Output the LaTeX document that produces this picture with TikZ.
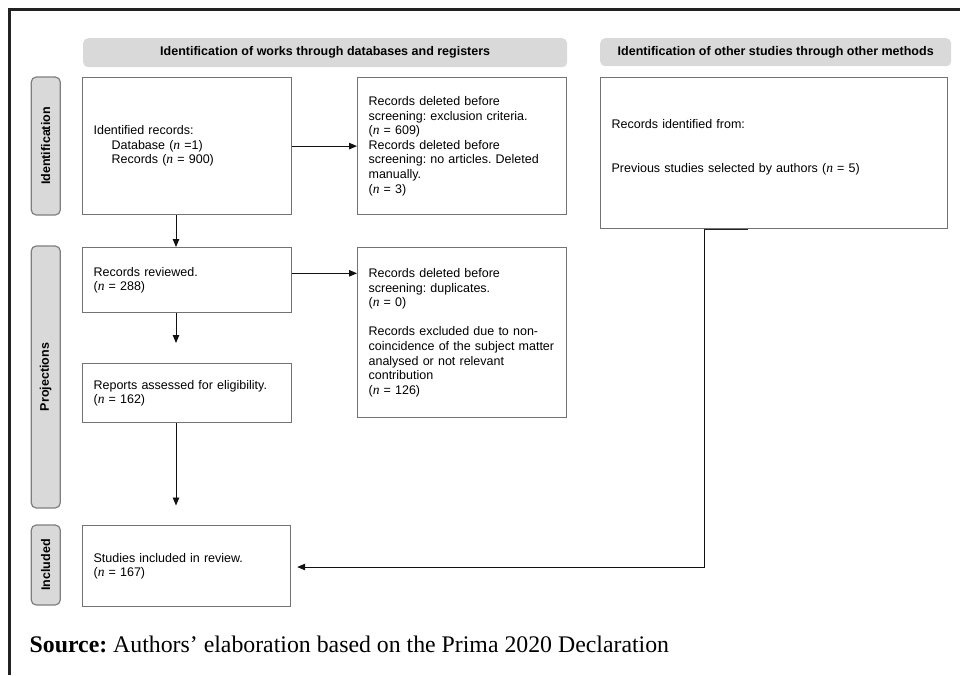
\documentclass[tikz,border=0pt]{standalone}
\usepackage{fontspec}
\setmainfont{Liberation Serif}
\setsansfont{Liberation Sans}
\usetikzlibrary{arrows.meta}
\definecolor{framec}{HTML}{222222}
\definecolor{hdrgray}{HTML}{D9D9D9}
\definecolor{boxgray}{HTML}{737373}
\definecolor{lblgray}{HTML}{7F7F7F}
\definecolor{linec}{HTML}{111111}
\newcommand{\nital}{{\rmfamily\itshape\fontsize{13.5}{14.6}\selectfont n}}
\frenchspacing
\begin{document}
\frenchspacing
\begin{tikzpicture}[x=1pt,y=-1pt,
  bx/.style={draw=boxgray, line width=1.2pt, inner xsep=11pt, inner ysep=0pt,
    align=left, anchor=north west, font=\sffamily\fontsize{12.5}{14.6}\selectfont\frenchspacing},
  hdr/.style={fill=hdrgray, rounded corners=5pt, anchor=north west, inner sep=0pt,
    font=\sffamily\bfseries\fontsize{12.5}{15}\selectfont},
  side/.style={fill=hdrgray, draw=lblgray, line width=1.2pt, rounded corners=5pt,
    rotate=90, anchor=center, inner sep=0pt, minimum height=29pt,
    font=\sffamily\bfseries\fontsize{12.5}{15}\selectfont},
  arr/.style={draw=linec, line width=0.9pt, -{Triangle[length=8pt,width=6.5pt]}}
]
\useasboundingbox (0,0) rectangle (960,675);
\fill[white] (0,0) rectangle (960,675);
\draw[framec, line width=3pt] (9,675) -- (9,9) -- (960,9);

% headers
\node[hdr, minimum width=484pt, minimum height=29pt] (H1) at (83,38)
  {Identification of works through databases and registers};
\node[hdr, minimum width=351pt, minimum height=28pt] (H2) at (600,38)
  {Identification of other studies through other methods};

% side labels
\node[side, minimum width=138pt] (S1) at (45.75,146) {Identification};
\node[side, minimum width=262pt] (S2) at (45.75,377) {Projections};
\node[side, minimum width=80pt] (S3) at (45.75,565) {Included};

% boxes
\node[bx, minimum width=209pt, minimum height=137pt, text width=187pt] (A) at (82,77)
  {Identified records:\\
   \hspace*{18pt}Database (\nital{} =1)\\
   \hspace*{18pt}Records (\nital{} = 900)};
\node[bx, minimum width=209pt, minimum height=137pt, text width=187pt] (B) at (357,77)
  {Records deleted before\\
   screening: exclusion criteria.\\
   (\nital{} = 609)\\
   Records deleted before\\
   screening: no articles. Deleted\\
   manually.\\
   (\nital{} = 3)};
\node[bx, minimum width=347pt, minimum height=151pt, text width=325pt] (C) at (600,77)
  {Records identified from:\\
   \mbox{}\\
   \mbox{}\\
   Previous studies selected by authors (\nital{} = 5)\\
   \mbox{}};
\node[bx, minimum width=209pt, minimum height=65pt, text width=187pt] (D) at (82,247)
  {Records reviewed.\\
   (\nital{} = 288)};
\node[bx, minimum width=209pt, minimum height=170pt, text width=187pt] (E) at (357,247)
  {Records deleted before\\
   screening: duplicates.\\
   (\nital{} = 0)\\[14.6pt]
   Records excluded due to non-\\
   coincidence of the subject matter\\
   analysed or not relevant\\
   contribution\\
   (\nital{} = 126)};
\node[bx, minimum width=209pt, minimum height=59pt, text width=187pt] (F) at (82,363)
  {Reports assessed for eligibility.\\
   (\nital{} = 162)};
\node[bx, minimum width=208pt, minimum height=81pt, text width=186pt] (G) at (82,525)
  {Studies included in review.\\
   (\nital{} = 167)};

% helper coordinates
\coordinate (xa) at (176,0);
\coordinate (yde) at (0,273.3);
\coordinate (d1) at (176,343);
\coordinate (f1) at (176,505.5);
\coordinate (xc) at (704,0);
\coordinate (cg) at (704,567);

% connectors
\draw[arr] (A.east) -- (B.west);
\draw[arr] (A.south -| xa) -- (D.north -| xa);
\draw[arr] (D.east |- yde) -- (E.west |- yde);
\draw[arr] (D.south -| xa) -- (d1);
\draw[arr] (F.south -| xa) -- (f1);
\draw[arr, shorten >=6pt] (C.south -| xc) -- (cg) -- (G.east |- cg);
\draw[draw=framec, line width=1.3pt] (C.south -| xc) -- ++(44,0);

% source
\node[anchor=base west, inner sep=0pt, font=\rmfamily\fontsize{23.8}{28}\selectfont] (src)
  at (29.5,652.7) {\textbf{Source:} Authors’ elaboration based on the Prima 2020 Declaration};
\end{tikzpicture}
\end{document}
